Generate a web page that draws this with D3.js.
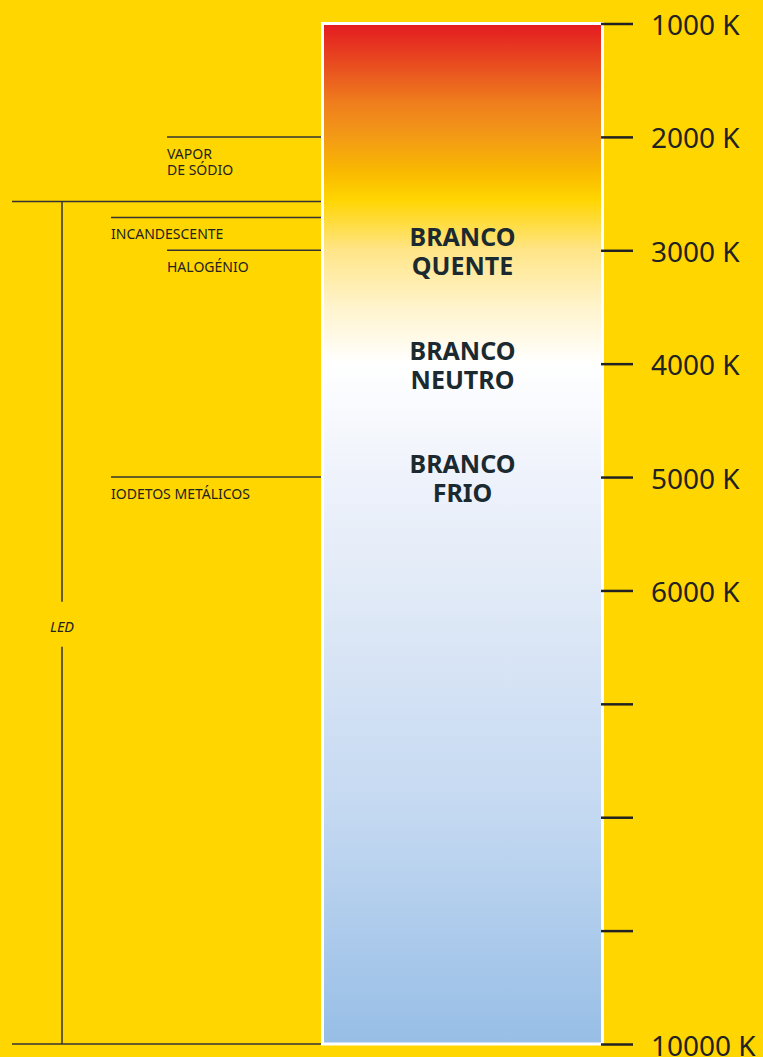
<!DOCTYPE html>
<html>
<head>
<meta charset="utf-8">
<script src="https://cdn.jsdelivr.net/npm/d3@7"></script>
<style>
    html, body { margin: 0; padding: 0; background: #ffd600; }
    svg { display: block; font-family: 'Noto Sans', sans-serif; }
</style>
</head>
<body>
<div id="chart"></div>
<script>
// kelvin scale
const tickKelvin = [1000, 2000, 3000, 4000, 5000, 6000, 7000, 8000, 9000, 10000];
const tickLabels = ['1000 K', '2000 K', '3000 K', '4000 K', '5000 K', '6000 K', '', '', '', '10000 K'];

// colour of the bar along the scale
const stopKelvin = [1000, 1400, 1700, 2000, 2300, 2550, 3000, 3500, 4000, 5000, 6000, 8000, 10000];
const stopColor = ['#e41a22', '#e9521f', '#ef7e1d', '#f39a16', '#f9b800', '#ffd500', '#ffe588',
    '#fff4cc', '#ffffff', '#eef2fb', '#e1eaf7', '#c3d8f1', '#97bee6'];

// light sources on the left
const sourceNames = ['VAPOR\nDE SÓDIO', 'INCANDESCENTE', 'HALOGÉNIO', 'IODETOS METÁLICOS'];
const sourceKelvin = [2000, 2710, 3000, 5000];
const ledName = 'LED';
const ledRange = [2570, 10000];

// names inside the bar
const whiteNames = ['BRANCO\nQUENTE', 'BRANCO\nNEUTRO', 'BRANCO\nFRIO'];
const whiteKelvin = [3000, 4000, 5000];

const width = 763;
const height = 1057;
const barLeft = 322.5;
const barRight = 602.5;
const sourceIndent = [167, 111, 167, 111]; // where each source line starts
const ink = '#222';

const svg = d3.select('#chart')
    .append('svg')
    .attr('width', width)
    .attr('height', height);

svg.append('rect')
    .attr('width', width)
    .attr('height', height)
    .attr('fill', '#ffd600');

const y = d3.scaleLinear()
    .domain([1000, 10000])
    .range([23.5, 1044]);

// gradient
const grad = svg.append('defs')
    .append('linearGradient')
    .attr('id', 'kelvin')
    .attr('gradientUnits', 'userSpaceOnUse')
    .attr('x1', 0).attr('x2', 0)
    .attr('y1', y(1000)).attr('y2', y(10000));

grad.selectAll('stop')
    .data(stopKelvin)
    .enter()
    .append('stop')
    .attr('offset', k => (y(k) - y(1000)) / (y(10000) - y(1000)))
    .attr('stop-color', (k, i) => stopColor[i]);

svg.append('rect')
    .attr('x', barLeft)
    .attr('y', y(1000))
    .attr('width', barRight - barLeft)
    .attr('height', y(10000) - y(1000))
    .attr('fill', 'url(#kelvin)')
    .attr('stroke', '#fff')
    .attr('stroke-width', 3);

// axis on the right
const axis = svg.append('g')
    .attr('transform', `translate(${barRight - 1.5},0)`)
    .call(d3.axisRight(y)
        .tickValues(tickKelvin)
        .tickSize(32)
        .tickPadding(18)
        .tickFormat((d, i) => tickLabels[i]));

axis.select('.domain').remove();
axis.selectAll('.tick line')
    .attr('stroke', ink)
    .attr('stroke-width', 2.5);
axis.selectAll('.tick text')
    .attr('fill', ink)
    .attr('font-size', 28)
    .attr('font-family', "'Noto Sans', sans-serif")
    .attr('dy', 11);

// light sources
const sources = svg.append('g').attr('class', 'sources');
sourceNames.forEach((name, i) => {
    const yy = y(sourceKelvin[i]);
    sources.append('line')
        .attr('x1', sourceIndent[i]).attr('x2', barLeft - 1.5)
        .attr('y1', yy).attr('y2', yy)
        .attr('stroke', '#333')
        .attr('stroke-width', 1.5);

    const text = sources.append('text')
        .attr('x', sourceIndent[i])
        .attr('y', yy + 22)
        .attr('fill', ink)
        .attr('font-size', 14);
    name.split('\n').forEach((part, j) => {
        text.append('tspan')
            .attr('x', sourceIndent[i])
            .attr('dy', j === 0 ? 0 : 16)
            .text(part);
    });
});

// LED bracket
const led = svg.append('g').attr('class', 'led');
const ledTop = y(ledRange[0]);
const ledBottom = y(ledRange[1]);
const ledMid = (ledTop + ledBottom) / 2;
const ledX = 62;

ledRange.forEach(k => {
    led.append('line')
        .attr('x1', 12).attr('x2', barLeft - 1.5)
        .attr('y1', y(k)).attr('y2', y(k))
        .attr('stroke', '#333')
        .attr('stroke-width', 1.5);
});
led.append('line')
    .attr('x1', ledX).attr('x2', ledX)
    .attr('y1', ledTop).attr('y2', ledMid - 21)
    .attr('stroke', '#333')
    .attr('stroke-width', 1.5);
led.append('line')
    .attr('x1', ledX).attr('x2', ledX)
    .attr('y1', ledMid + 24).attr('y2', ledBottom)
    .attr('stroke', '#333')
    .attr('stroke-width', 1.5);
led.append('text')
    .attr('x', ledX)
    .attr('y', ledMid + 9)
    .attr('text-anchor', 'middle')
    .attr('font-style', 'italic')
    .attr('font-size', 14.5)
    .attr('fill', ink)
    .text(ledName);

// names inside the bar
const whites = svg.append('g').attr('class', 'whites');
whiteNames.forEach((name, i) => {
    const text = whites.append('text')
        .attr('x', (barLeft + barRight) / 2)
        .attr('y', y(whiteKelvin[i]) - 4)
        .attr('text-anchor', 'middle')
        .attr('font-weight', 'bold')
        .attr('font-size', 25)
        .attr('fill', '#1b2a30');
    name.split('\n').forEach((part, j) => {
        text.append('tspan')
            .attr('x', (barLeft + barRight) / 2)
            .attr('dy', j === 0 ? 0 : 29)
            .text(part);
    });
});
</script>
</body>
</html>
